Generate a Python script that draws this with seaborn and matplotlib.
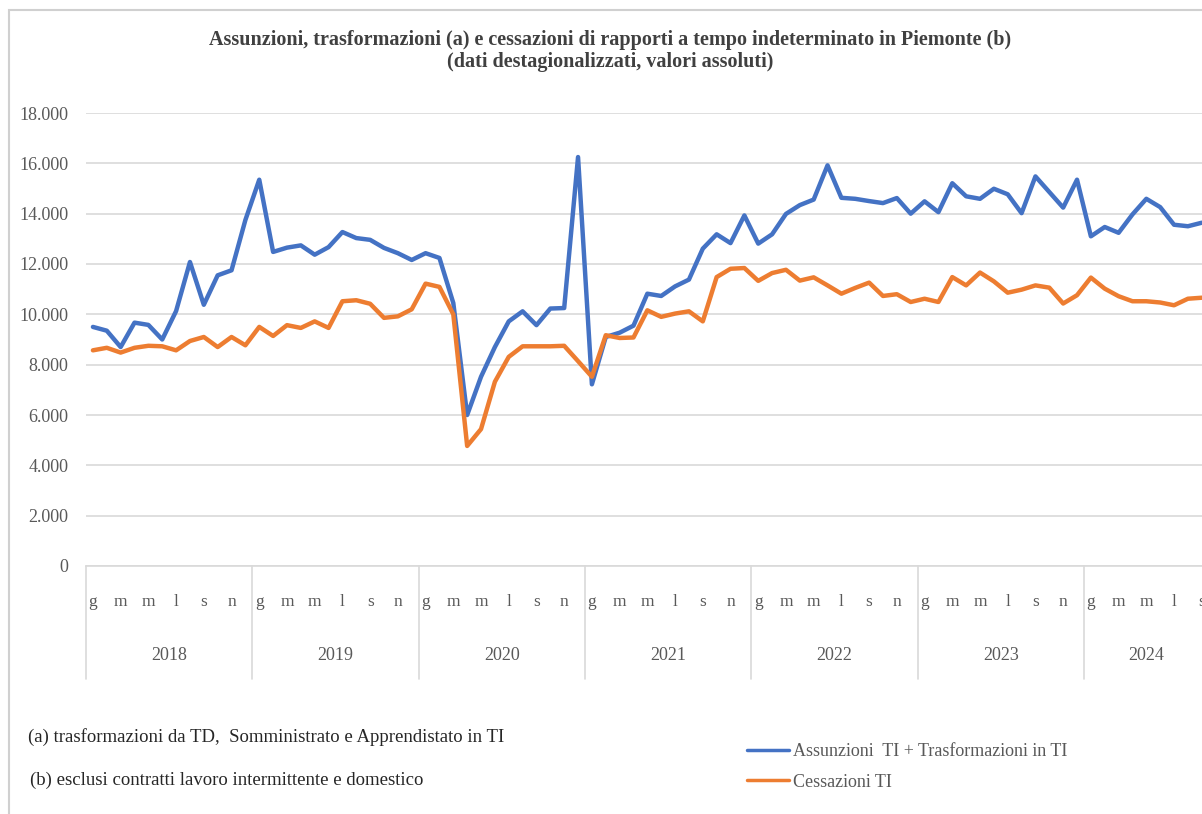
import numpy as np
import pandas as pd
import matplotlib
matplotlib.use("Agg")
import matplotlib.pyplot as plt
import matplotlib.transforms as mtransforms
from matplotlib.patches import Rectangle
from matplotlib.lines import Line2D
import seaborn as sns

# ---------------- data ----------------
years = ["2018", "2019", "2020", "2021", "2022", "2023", "2024"]
months_per_year = [12, 12, 12, 12, 12, 12, 9]
month_letters = ["g", "f", "m", "a", "m", "g", "l", "a", "s", "o", "n", "d"]

assunzioni = [
    9500, 9350, 8700, 9670, 9580, 9000, 10130, 12080, 10380, 11550, 11750, 13750,
    15350, 12480, 12650, 12740, 12370, 12670, 13270, 13030, 12960, 12640, 12430, 12160,
    12430, 12240, 10450, 6000, 7520, 8700, 9720, 10120, 9570, 10230, 10250, 16250,
    7220, 9100, 9270, 9550, 10820, 10730, 11110, 11380, 12610, 13180, 12830, 13930,
    12810, 13180, 13990, 14340, 14560, 15920, 14630, 14590, 14500, 14420, 14620, 14000,
    14490, 14060, 15210, 14690, 14590, 14990, 14770, 14020, 15480, 14860, 14240, 15350,
    13100, 13470, 13240, 13970, 14590, 14260, 13560, 13500, 13640,
]
cessazioni = [
    8570, 8670, 8480, 8670, 8750, 8730, 8570, 8940, 9100, 8700, 9100, 8770,
    9500, 9140, 9570, 9460, 9720, 9460, 10520, 10560, 10420, 9860, 9920, 10200,
    11220, 11090, 10000, 4770, 5440, 7320, 8310, 8730, 8730, 8730, 8750, 8140,
    7520, 9170, 9060, 9080, 10160, 9900, 10030, 10120, 9720, 11480, 11810, 11840,
    11330, 11640, 11770, 11340, 11470, 11150, 10820, 11050, 11260, 10730, 10800, 10490,
    10620, 10490, 11480, 11150, 11660, 11310, 10860, 10980, 11150, 11060, 10430, 10760,
    11460, 11020, 10720, 10520, 10520, 10470, 10360, 10620, 10660,
]
series_names = ["Assunzioni  TI + Trasformazioni in TI", "Cessazioni TI"]
series_colors = ["#4472C4", "#ED7D31"]
y_ticks = [0, 2000, 4000, 6000, 8000, 10000, 12000, 14000, 16000, 18000]

title = ("Assunzioni, trasformazioni (a) e cessazioni di rapporti a tempo indeterminato in Piemonte (b)\n"
         "(dati destagionalizzati, valori assoluti)")
note_a = "(a) trasformazioni da TD,  Somministrato e Apprendistato in TI"
note_b = "(b) esclusi contratti lavoro intermittente e domestico"

# ---------------- build frame ----------------
n = len(assunzioni)
idx = np.arange(n)
df = pd.DataFrame({
    "t": np.concatenate([idx, idx]),
    "valore": assunzioni + cessazioni,
    "serie": [series_names[0]] * n + [series_names[1]] * n,
})

sns.set_theme(style="white")
plt.rcParams["font.family"] = ["Liberation Serif", "DejaVu Serif"]

W, H = 1202, 814
fig = plt.figure(figsize=(W / 100, H / 100), dpi=100)
fig.patch.set_facecolor("white")

# chart frame (border)
fig.add_artist(Rectangle((9 / W, -0.1), 1.2, (H - 10) / H + 0.1, transform=fig.transFigure,
                         fill=False, edgecolor="#D0D0D0", linewidth=1.5))

ax_left, ax_right = 86, 1208.7
ax_top, ax_bottom = 113, 566
ax = fig.add_axes([ax_left / W, (H - ax_bottom) / H, (ax_right - ax_left) / W, (ax_bottom - ax_top) / H])

sns.lineplot(data=df, x="t", y="valore", hue="serie", palette=series_colors,
             linewidth=3.2, ax=ax, legend=False)

ax.set_xlim(-0.5, n - 0.5)
ax.set_ylim(0, 18000)
ax.set_yticks(y_ticks)
ax.set_yticklabels([f"{v:,}".replace(",", ".") for v in y_ticks], fontsize=13, color="#595959")
ax.tick_params(axis="y", length=0, pad=12.5)
ax.yaxis.grid(True, color="#D9D9D9", linewidth=1.2)
ax.xaxis.grid(False)
for s in ["top", "right", "left"]:
    ax.spines[s].set_visible(False)
ax.spines["bottom"].set_color("#D9D9D9")
ax.spines["bottom"].set_linewidth(1.2)
ax.set_xlabel("")
ax.set_ylabel("")

# month tick labels (every other month)
tick_pos, tick_lab = [], []
start = 0
for y, m in zip(years, months_per_year):
    for k in range(0, m, 2):
        tick_pos.append(start + k)
        tick_lab.append(month_letters[k])
    start += m
ax.set_xticks(tick_pos)
ax.set_xticklabels(tick_lab, fontsize=12.5, color="#595959")
ax.tick_params(axis="x", length=0, pad=20)

# year labels and separators
trans = mtransforms.blended_transform_factory(ax.transData, ax.transAxes)
start = 0
sep_bottom = -(679 - ax_bottom) / (ax_bottom - ax_top)
year_y = -(655 - ax_bottom) / (ax_bottom - ax_top)
for y, m in zip(years, months_per_year):
    b = start - 0.5
    ax.plot([b, b], [0, sep_bottom], transform=trans, color="#D9D9D9", linewidth=1.2, clip_on=False)
    ax.text(start + m / 2 - 0.5, year_y, y, transform=trans, ha="center", va="center",
            fontsize=13, color="#595959")
    start += m

# title
fig.text(610 / W, 1 - 51 / H, title, ha="center", va="center", fontsize=14.5,
         fontweight="bold", color="#404040", linespacing=1.2)

# footnotes
fig.text(28 / W, 1 - 737 / H, note_a, ha="left", va="center", fontsize=13.5, color="#262626")
fig.text(30 / W, 1 - 780 / H, note_b, ha="left", va="center", fontsize=13.5, color="#262626")

# legend
handles = [Line2D([], [], color=c, linewidth=2.5) for c in series_colors]
fig.legend(handles, series_names, loc="upper left", bbox_to_anchor=(731 / W, 1 - 727 / H),
           frameon=False, fontsize=13, handlelength=2.3, handletextpad=0.25,
           labelspacing=0.75, labelcolor="#595959")

fig.savefig("out.png", dpi=100)
